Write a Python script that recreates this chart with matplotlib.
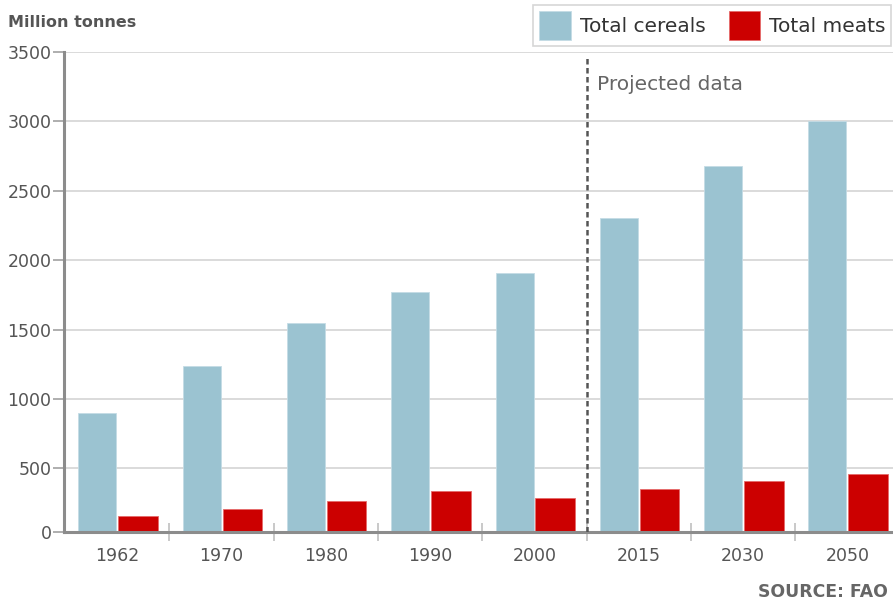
import numpy as np
import matplotlib
matplotlib.use("Agg")
from matplotlib import pyplot as plt

years = ['1962', '1970', '1980', '1990', '2000', '2015', '2030', '2050']
cereals = [896, 1239, 1544, 1774, 1904, 2307, 2682, 3000]
meats = [158, 205, 262, 334, 288, 349, 406, 461]
y_ticks = [0, 500, 1000, 1500, 2000, 2500, 3000, 3500]

cereal_col = '#9bc3d1'
meat_col = '#cc0000'
grey_txt = '#555555'

# the source chart draws its baseline a little above the true zero
base_offset = 43

fig = plt.figure(figsize=(8.93, 6.01), dpi=100)
ax = fig.add_axes([64/893, 1 - 531.7/601, 835.4/893, 479.7/601])

x = np.arange(len(years))
ax.bar(x - 0.19, cereals, width=0.365, color=cereal_col,
       edgecolor='#c4dce5', linewidth=0.6, zorder=3, label='Total cereals')
ax.bar(x + 0.2, meats, width=0.38, color=meat_col,
       edgecolor='#e66a6a', linewidth=0.6, zorder=3, label='Total meats')

ax.set_xlim(-0.51, 7.5)
ax.set_ylim(base_offset, 3500)

# y axis
tick_pos = [base_offset] + y_ticks[1:]
ax.set_yticks(tick_pos)
ax.set_yticklabels([str(v) for v in y_ticks])
ax.tick_params(axis='y', direction='out', length=8, width=1.1, color='#999999',
               pad=1, labelsize=12.5, labelcolor=grey_txt)
for t in tick_pos[1:]:
    ax.axhline(t, color='#d4d4d4', lw=1.2, zorder=1)

# x axis
ax.set_xticks(x)
ax.set_xticklabels(years)
ax.tick_params(axis='x', which='major', length=0, pad=11,
               labelsize=12.5, labelcolor=grey_txt)
ax.set_xticks(x[:-1] + 0.5, minor=True)
ax.tick_params(axis='x', which='minor', direction='inout', length=13,
               width=1.1, color='#bbbbbb')

for s in ['top', 'right']:
    ax.spines[s].set_visible(False)
for s in ['left', 'bottom']:
    ax.spines[s].set_color('#8c8c8c')
    ax.spines[s].set_linewidth(2.2)
    ax.spines[s].set_zorder(4)

# projected split
ax.axvline(4.5, ymax=0.99, color='#555555', lw=1.8,
           linestyle=(0, (2.2, 1.4)), zorder=5)
fig.text(596.7/893, 1 - 85/601, 'Projected data', color='#666666',
         fontsize=14.5, va='center', ha='left')

fig.text(8/893, 1 - 22.5/601, 'Million tonnes', color=grey_txt,
         fontsize=11.5, fontweight='bold', va='center', ha='left')
fig.text(758.3/893, 1 - 592/601, 'SOURCE: FAO', color='#666666',
         fontsize=12.4, fontweight='bold', va='center', ha='left')

leg = fig.legend(loc='upper left', bbox_to_anchor=(533.3/893, 1 - 5/601),
                 ncol=2, fontsize=14.5, frameon=True, fancybox=False,
                 borderaxespad=0, borderpad=0.3, handlelength=1.55,
                 handleheight=1.85, handletextpad=0.45, columnspacing=1.15,
                 labelcolor='#333333')
leg.get_frame().set_edgecolor('#cccccc')
leg.get_frame().set_linewidth(1.2)

fig.savefig('out.png', dpi=100)
